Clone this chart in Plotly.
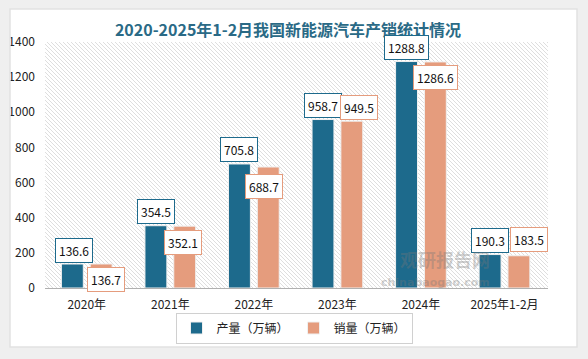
import plotly.graph_objects as go

categories = ["2020年", "2021年", "2022年", "2023年", "2024年", "2025年1-2月"]
production = [136.6, 354.5, 705.8, 958.7, 1288.8, 190.3]
sales = [136.7, 352.1, 688.7, 949.5, 1286.6, 183.5]
series_names = ["产量（万辆）", "销量（万辆）"]
title_text = "2020-2025年1-2月我国新能源汽车产销统计情况"

BLUE = "#1d6a8c"
ORANGE = "#e59c7d"
FONT = "Noto Sans CJK SC"

# label offsets (pixel styling), per category: (dx, dy)
prod_offsets = [(2, 14), (0, 14), (0, 14), (0, 14), (0, 14), (0, 14)]
sales_offsets = [(5, -16), (-2, -16), (-4, -20), (7, 14), (0, -16), (10, 16)]

W, H = 588, 359
L, R, T, B = 45, 40, 42, 71
PW, PH = W - L - R, H - T - B


def px(x):
    return (x - L) / PW


def py(y):
    return (H - B - y) / PH


fig = go.Figure()
fig.add_trace(go.Bar(x=categories, y=production, name=series_names[0],
                     marker=dict(color=BLUE, line=dict(color="#f0f0f0", width=1))))
fig.add_trace(go.Bar(x=categories, y=sales, name=series_names[1],
                     marker=dict(color=ORANGE, line=dict(color="#f0f0f0", width=1))))

annotations = []
for i, c in enumerate(categories):
    dx, dy = prod_offsets[i]
    annotations.append(dict(x=c, y=production[i], xref="x", yref="y",
                            text=f"{production[i]:.1f}", showarrow=False,
                            xshift=-14.5 + dx, yshift=dy, yanchor="middle",
                            bgcolor="white", bordercolor=BLUE, borderwidth=1, borderpad=3,
                            font=dict(family=FONT, size=12, color="#111")))
    dx, dy = sales_offsets[i]
    annotations.append(dict(x=c, y=sales[i], xref="x", yref="y",
                            text=f"{sales[i]:.1f}", showarrow=False,
                            xshift=14.5 + dx, yshift=dy, yanchor="middle",
                            bgcolor="white", bordercolor=ORANGE, borderwidth=1, borderpad=3,
                            font=dict(family=FONT, size=12, color="#111")))

# watermark
annotations.append(dict(x=px(492), y=py(274), xref="paper", yref="paper",
                        text="<b>观研报告网</b>", showarrow=False,
                        font=dict(family=FONT, size=18, color="rgba(120,120,120,0.35)")))
annotations.append(dict(x=px(492), y=py(291), xref="paper", yref="paper",
                        text="<b>chinabaogao.com</b>", showarrow=False,
                        font=dict(family="DejaVu Sans", size=11, color="rgba(120,120,120,0.35)")))

shapes = []
# hatched plot background: diagonal lines drawn as one path (decoration)
segs = []
s = 4
k = 0
while True:
    x0 = k * s - PH
    if x0 > PW:
        break
    t0 = max(0, -x0)
    t1 = min(PH, PW - x0)
    if t1 > t0:
        segs.append(f"M{(x0 + t0) / PW:.5f},{1 - t0 / PH:.5f}L{(x0 + t1) / PW:.5f},{1 - t1 / PH:.5f}")
    k += 1
shapes.append(dict(type="path", xref="paper", yref="paper", path="".join(segs),
                   line=dict(color="#dedede", width=1), layer="below"))

GRAY = "#efefef"
# outer gray frame around the white card (x 10..577, y 9..347)
shapes.append(dict(type="rect", xref="paper", yref="paper", x0=px(0), x1=px(W), y0=py(0), y1=py(9),
                   fillcolor=GRAY, line=dict(width=0), layer="above"))
shapes.append(dict(type="rect", xref="paper", yref="paper", x0=px(0), x1=px(W), y0=py(347), y1=py(H),
                   fillcolor=GRAY, line=dict(width=0), layer="above"))
shapes.append(dict(type="rect", xref="paper", yref="paper", x0=px(0), x1=px(10), y0=py(0), y1=py(H),
                   fillcolor=GRAY, line=dict(width=0), layer="above"))
shapes.append(dict(type="rect", xref="paper", yref="paper", x0=px(577), x1=px(W), y0=py(0), y1=py(H),
                   fillcolor=GRAY, line=dict(width=0), layer="above"))
shapes.append(dict(type="rect", xref="paper", yref="paper", x0=px(10), x1=px(577), y0=py(9), y1=py(347),
                   fillcolor="rgba(0,0,0,0)", line=dict(color="#e2e2e2", width=1.5), layer="above"))

fig.update_layout(
    width=W, height=H,
    margin=dict(l=L, r=R, t=T, b=B, autoexpand=False),
    paper_bgcolor="white", plot_bgcolor="white",
    barmode="group", bargap=0.31, bargroupgap=0.24,
    title=dict(text=f"<b>{title_text}</b>", x=288 / W, xref="container", xanchor="center",
               y=1 - 30 / H, yanchor="middle", yref="container",
               font=dict(family=FONT, size=16, color="#2a6a86")),
    font=dict(family=FONT, size=12, color="#222"),
    xaxis=dict(showline=True, linecolor="#b0b0b0", linewidth=1, ticks="", showgrid=False,
               tickfont=dict(family=FONT, size=12, color="#222"), ticklabelstandoff=6),
    yaxis=dict(range=[0, 1400], dtick=200, showgrid=False, showline=False, zeroline=False,
               ticks="", tickfont=dict(family=FONT, size=12, color="#222"), ticklabelstandoff=9),
    legend=dict(orientation="h", x=px(294), y=py(328), xanchor="center", yanchor="middle",
                bordercolor="#d0d0d0", borderwidth=1, bgcolor="white",
                font=dict(family=FONT, size=12, color="#222"), itemwidth=30),
    annotations=annotations,
    shapes=shapes,
    hovermode=False,
)

fig.write_html("out.html", config={"displayModeBar": False},
               post_script="document.body.style.margin='0';document.body.style.padding='0';")
